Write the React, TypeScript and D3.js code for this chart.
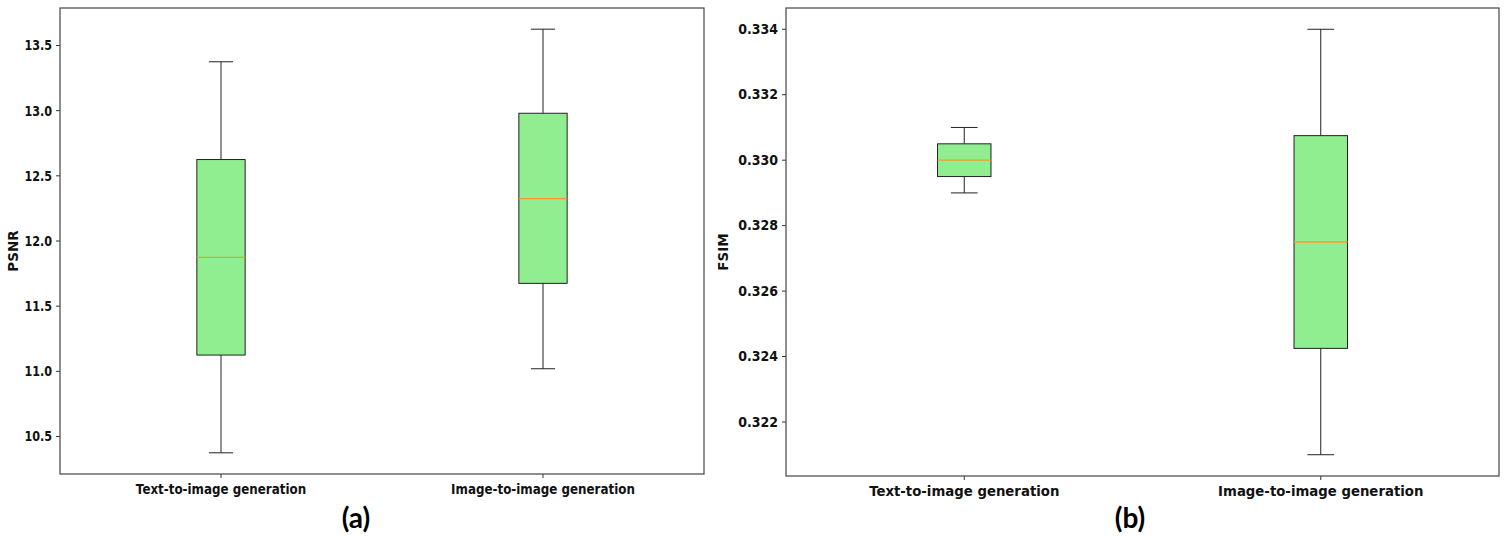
import React from "react";
import * as d3 from "d3";

const categories = ["Text-to-image generation", "Image-to-image generation"];

// Panel (a) PSNR
const psnrLow = [10.375, 11.02];
const psnrQ1 = [11.125, 11.675];
const psnrMedian = [11.875, 12.325];
const psnrQ3 = [12.625, 12.98];
const psnrHigh = [13.375, 13.625];
const psnrTicks = [10.5, 11.0, 11.5, 12.0, 12.5, 13.0, 13.5];

// Panel (b) FSIM
const fsimLow = [0.329, 0.321];
const fsimQ1 = [0.3295, 0.32425];
const fsimMedian = [0.33, 0.3275];
const fsimQ3 = [0.3305, 0.33075];
const fsimHigh = [0.331, 0.334];
const fsimTicks = [0.322, 0.324, 0.326, 0.328, 0.33, 0.332, 0.334];

type PanelProps = {
  left: number;
  right: number;
  top: number;
  bottom: number;
  low: number[];
  q1: number[];
  med: number[];
  q3: number[];
  high: number[];
  ticks: number[];
  fmt: (v: number) => string;
  yLabel: string;
  yLabelX: number;
  tickScale: number;
  xLabScale: number;
  xLabY: number;
  title: string;
  titleX: number;
};

const FONT = "'DejaVu Sans', sans-serif";

function Panel(p: PanelProps) {
  const lo = d3.min(p.low) as number;
  const hi = d3.max(p.high) as number;
  const pad = (hi - lo) * 0.05;
  const y = d3.scaleLinear().domain([lo - pad, hi + pad]).range([p.bottom, p.top]);
  const x = d3.scaleLinear().domain([0.5, 2.5]).range([p.left, p.right]);
  const boxW = 0.15;
  const capW = 0.075;
  const stroke = "#222";
  return (
    <g>
      {categories.map((c, i) => {
        const pos = i + 1;
        const cx = x(pos);
        const bx0 = x(pos - boxW / 2);
        const bx1 = x(pos + boxW / 2);
        const cx0 = x(pos - capW / 2);
        const cx1 = x(pos + capW / 2);
        return (
          <g key={c}>
            <line x1={cx} x2={cx} y1={y(p.q3[i])} y2={y(p.high[i])} stroke={stroke} strokeWidth={1} />
            <line x1={cx} x2={cx} y1={y(p.q1[i])} y2={y(p.low[i])} stroke={stroke} strokeWidth={1} />
            <line x1={cx0} x2={cx1} y1={y(p.high[i])} y2={y(p.high[i])} stroke={stroke} strokeWidth={1} />
            <line x1={cx0} x2={cx1} y1={y(p.low[i])} y2={y(p.low[i])} stroke={stroke} strokeWidth={1} />
            <rect
              x={bx0}
              y={y(p.q3[i])}
              width={bx1 - bx0}
              height={y(p.q1[i]) - y(p.q3[i])}
              fill="#90ee90"
              stroke={stroke}
              strokeWidth={1}
            />
            <line x1={bx0} x2={bx1} y1={y(p.med[i])} y2={y(p.med[i])} stroke="#f39a2e" strokeWidth={1.3} />
            <line x1={cx} x2={cx} y1={p.bottom} y2={p.bottom + 4} stroke="#333" strokeWidth={1} />
            <text
              transform={`translate(${cx},${p.xLabY}) scale(${p.xLabScale},1)`}
              textAnchor="middle"
              fontFamily={FONT}
              fontWeight="bold"
              fontSize={14}
              fill="#111"
            >
              {c}
            </text>
          </g>
        );
      })}
      {p.ticks.map((t) => (
        <g key={t}>
          <line x1={p.left - 4} x2={p.left} y1={y(t)} y2={y(t)} stroke="#333" strokeWidth={1} />
          <text
            transform={`translate(${p.left - 8},${y(t)}) scale(${p.tickScale},1)`}
            textAnchor="end"
            dominantBaseline="central"
            fontFamily={FONT}
            fontWeight="bold"
            fontSize={14}
            fill="#111"
          >
            {p.fmt(t)}
          </text>
        </g>
      ))}
      <rect
        x={p.left}
        y={p.top}
        width={p.right - p.left}
        height={p.bottom - p.top}
        fill="none"
        stroke="#444"
        strokeWidth={1.2}
      />
      <text
        transform={`translate(${p.yLabelX},${(p.top + p.bottom) / 2 + 10}) rotate(-90)`}
        textAnchor="middle"
        dominantBaseline="central"
        fontFamily={FONT}
        fontWeight="bold"
        fontSize={13.5}
        fill="#111"
      >
        {p.yLabel}
      </text>
      <text
        x={p.titleX}
        y={528}
        textAnchor="middle"
        fontFamily="Lato, 'Open Sans', sans-serif"
        fontWeight="bold"
        fontSize={28}
        fill="#000"
      >
        {p.title}
      </text>
    </g>
  );
}

export default function App() {
  return (
    <svg
      width={1506}
      height={537}
      style={{ position: "absolute", left: 0, top: 0, background: "#fff" }}
    >
      <rect width={1506} height={537} fill="#fff" />
      <Panel
        left={60}
        right={704}
        top={8}
        bottom={474}
        low={psnrLow}
        q1={psnrQ1}
        med={psnrMedian}
        q3={psnrQ3}
        high={psnrHigh}
        ticks={psnrTicks}
        fmt={d3.format(".1f")}
        yLabel="PSNR"
        yLabelX={13}
        tickScale={0.8}
        xLabScale={0.85}
        xLabY={494}
        title="(a)"
        titleX={356}
      />
      <Panel
        left={786}
        right={1499}
        top={8}
        bottom={476}
        low={fsimLow}
        q1={fsimQ1}
        med={fsimMedian}
        q3={fsimQ3}
        high={fsimHigh}
        ticks={fsimTicks}
        fmt={d3.format(".3f")}
        yLabel="FSIM"
        yLabelX={723}
        tickScale={0.9}
        xLabScale={0.95}
        xLabY={496}
        title="(b)"
        titleX={1130}
      />
    </svg>
  );
}
